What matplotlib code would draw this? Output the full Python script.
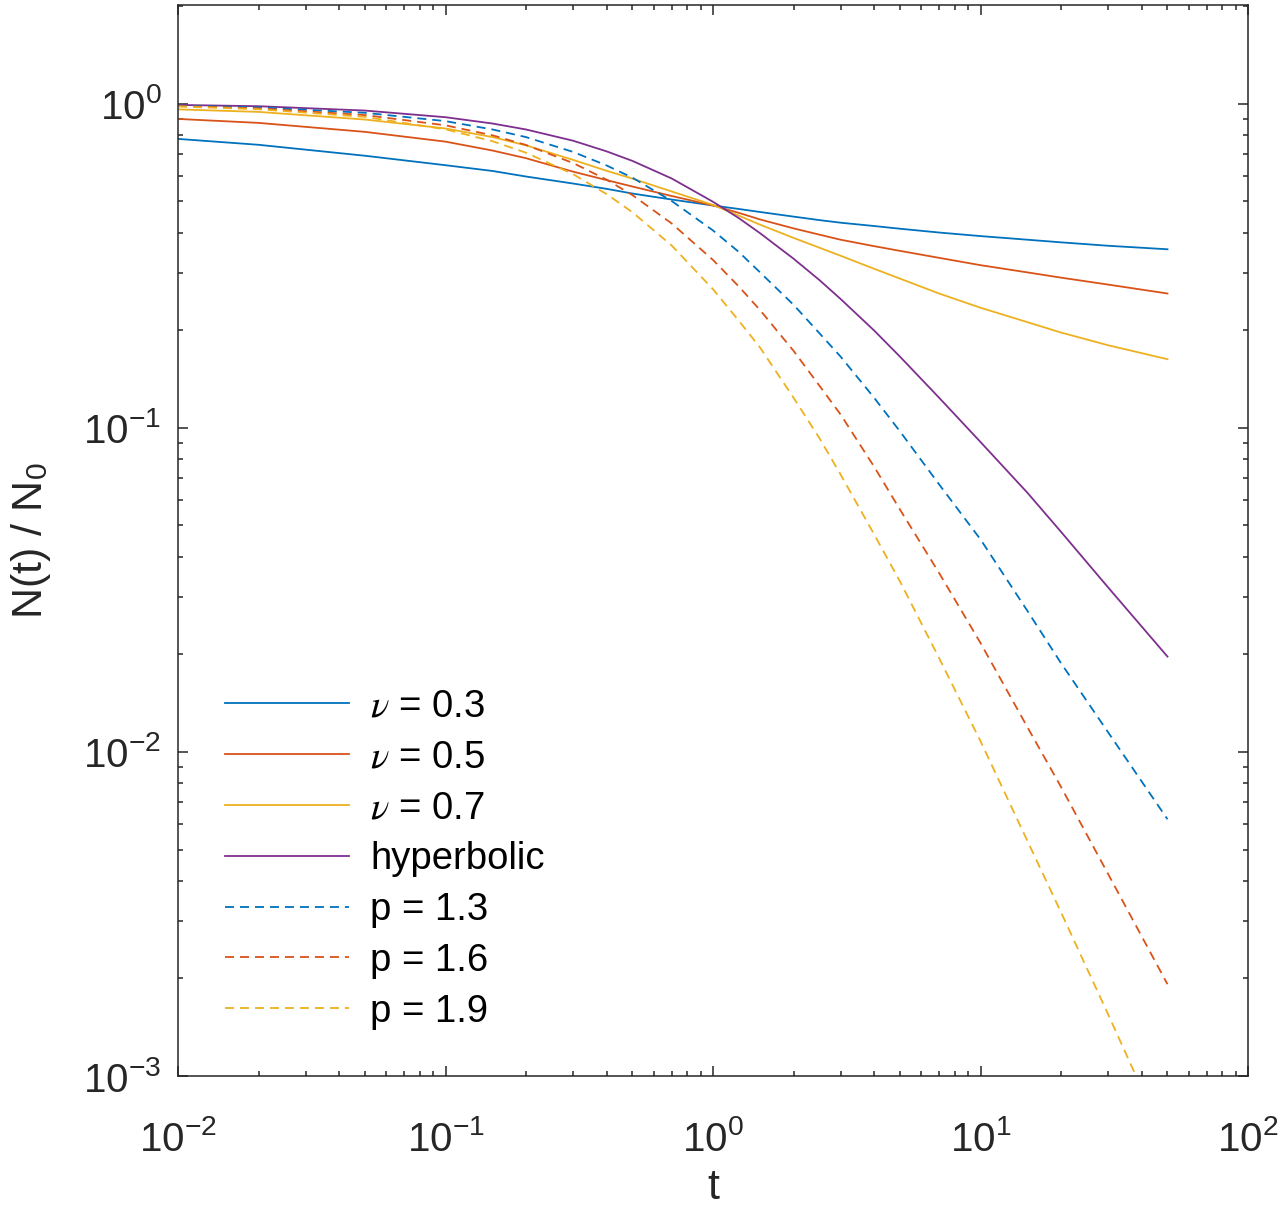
import numpy as np
import matplotlib
matplotlib.use("Agg")
import matplotlib.pyplot as plt

plt.rcParams["font.family"] = ["Liberation Sans", "DejaVu Sans"]
plt.rcParams["mathtext.fontset"] = "stix"

# time points
t = [0.01, 0.02, 0.05, 0.1, 0.15, 0.2, 0.3, 0.4, 0.5, 0.7, 1, 1.25, 1.5, 2, 2.5, 3, 4, 5, 7,
     10, 15, 20, 30, 50]

# N(t)/N0
nu03 = [0.780, 0.748, 0.692, 0.647, 0.621, 0.597, 0.568, 0.547, 0.529, 0.507, 0.486, 0.474,
        0.464, 0.449, 0.438, 0.430, 0.420, 0.412, 0.401, 0.391, 0.381, 0.374, 0.365, 0.356]
nu05 = [0.899, 0.874, 0.820, 0.765, 0.718, 0.680, 0.618, 0.582, 0.556, 0.520, 0.486, 0.461,
        0.440, 0.413, 0.395, 0.381, 0.364, 0.352, 0.335, 0.318, 0.302, 0.291, 0.277, 0.260]
nu07 = [0.962, 0.945, 0.895, 0.840, 0.790, 0.745, 0.672, 0.622, 0.588, 0.537, 0.488, 0.452,
        0.424, 0.386, 0.360, 0.340, 0.310, 0.289, 0.260, 0.235, 0.212, 0.197, 0.180, 0.163]
hyper = [0.993, 0.984, 0.954, 0.910, 0.870, 0.834, 0.770, 0.714, 0.667, 0.589, 0.499, 0.444,
         0.399, 0.333, 0.286, 0.250, 0.200, 0.166, 0.124, 0.0905, 0.0630, 0.0478, 0.0322, 0.0197]
p13 = [0.988, 0.976, 0.939, 0.885, 0.834, 0.790, 0.711, 0.646, 0.592, 0.502, 0.407, 0.349,
       0.302, 0.240, 0.196, 0.166, 0.124, 0.0976, 0.0670, 0.0453, 0.0272, 0.0188, 0.0115, 0.0062]
p16 = [0.985, 0.969, 0.924, 0.859, 0.800, 0.747, 0.657, 0.584, 0.523, 0.428, 0.330, 0.273,
       0.231, 0.173, 0.135, 0.110, 0.076, 0.056, 0.0357, 0.0217, 0.0119, 0.0078, 0.0042, 0.00192]
p19 = [0.982, 0.963, 0.912, 0.835, 0.767, 0.707, 0.607, 0.527, 0.463, 0.366, 0.268, 0.214,
       0.177, 0.124, 0.093, 0.0718, 0.047, 0.0336, 0.0195, 0.0108, 0.0053, 0.0032, 0.00155, 0.00061]

c_blue = "#0072BD"
c_red = "#D95319"
c_yel = "#EDB120"
c_pur = "#7E2F8E"
ax_col = "#262626"

fig = plt.figure(figsize=(12.87, 12.10), dpi=100)
ax = fig.add_axes([178/1287, 1 - 1076/1210, 1070/1287, 1071/1210])

lw = 1.3
dash = (5, 3.3)
ax.plot(t, nu03, color=c_blue, lw=lw, label=r"$\nu$ = 0.3")
ax.plot(t, nu05, color=c_red, lw=lw, label=r"$\nu$ = 0.5")
ax.plot(t, nu07, color=c_yel, lw=lw, label=r"$\nu$ = 0.7")
ax.plot(t, hyper, color=c_pur, lw=lw, label="hyperbolic")
ax.plot(t, p13, color=c_blue, lw=lw, dashes=dash, label="p = 1.3")
ax.plot(t, p16, color=c_red, lw=lw, dashes=dash, label="p = 1.6")
ax.plot(t, p19, color=c_yel, lw=lw, dashes=dash, label="p = 1.9")

ax.set_xscale("log")
ax.set_yscale("log")
ax.set_xlim(1e-2, 1e2)
ax.set_ylim(1e-3, 2.02)

for s in ax.spines.values():
    s.set_color(ax_col)
    s.set_linewidth(1.1)
ax.tick_params(which="both", direction="in", top=True, right=True, colors=ax_col, width=1.1)
ax.tick_params(which="major", length=7, labelsize=29)
ax.tick_params(axis="x", which="major", pad=32)
ax.tick_params(axis="y", which="major", pad=12)
ax.tick_params(which="minor", length=3.5)

ax.set_xlabel("t", fontsize=31, color=ax_col, labelpad=6)
ax.set_ylabel(r"N(t) / N$_{\mathdefault{0}}$", fontsize=31, color=ax_col, labelpad=22)

leg = ax.legend(loc="center left", bbox_to_anchor=(0.044, 0.2026), frameon=False,
                fontsize=27.5, handlelength=3.25, handletextpad=0.55, labelspacing=0.39,
                borderpad=0, borderaxespad=0)

fig.savefig("out.png", dpi=100)
